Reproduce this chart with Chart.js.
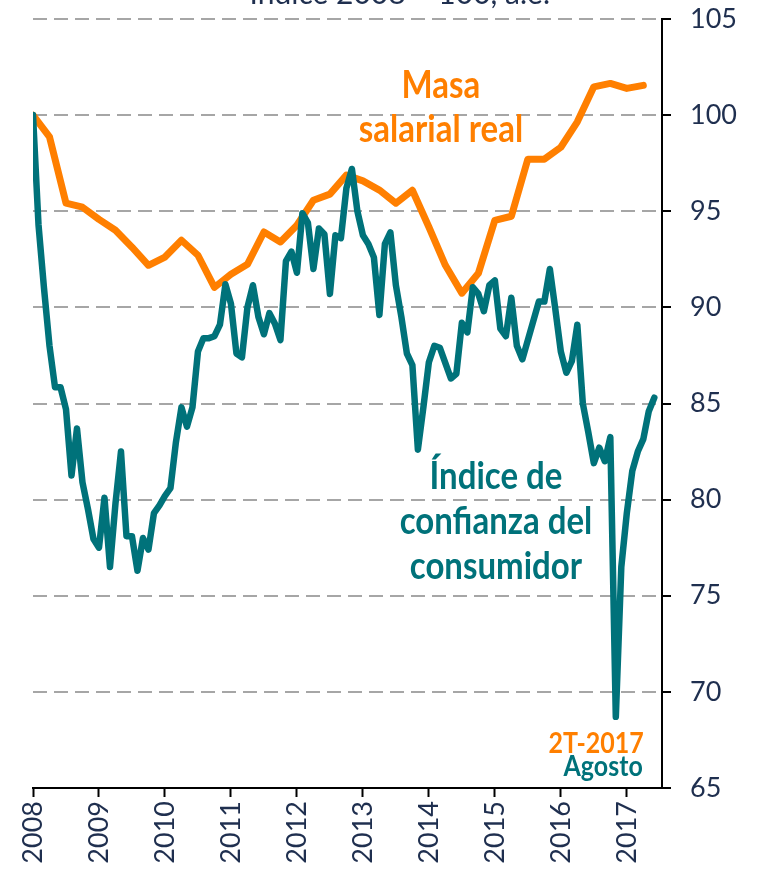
<!DOCTYPE html>
<html lang="es">
<head>
<meta charset="utf-8">
<title>Masa salarial real e Índice de confianza del consumidor</title>
<script src="https://cdn.jsdelivr.net/npm/chart.js@4.4.1/dist/chart.umd.min.js"></script>
<style>
  html, body { margin: 0; padding: 0; background: #ffffff; }
  #wrap { width: 759px; height: 876px; position: relative; }
</style>
</head>
<body>
<div id="wrap"><canvas id="grafica"></canvas></div>
<script>
// Índice de confianza del consumidor, mensual (ene-2008 = 100)
const confianza = [
  100, 94.3, 91.0, 88.0, 85.85, 85.85, 84.7, 81.25, 83.7, 80.9, 79.5, 77.95,
  77.5, 80.1, 76.5, 79.8, 82.5, 78.1, 78.1, 76.3, 78.0, 77.4, 79.3, 79.7,
  80.2, 80.6, 83.0, 84.8, 83.8, 84.8, 87.7, 88.4, 88.4, 88.5, 89.1, 91.2,
  90.2, 87.6, 87.4, 90.0, 91.15, 89.5, 88.6, 89.7, 89.15, 88.3, 92.4, 92.9,
  91.8, 94.9, 94.4, 92.0, 94.1, 93.8, 90.7, 93.75, 93.6, 96.2, 97.2, 95.0,
  93.75, 93.3, 92.6, 89.6, 93.3, 93.9, 91.15, 89.5, 87.6, 87.0, 82.6, 84.8,
  87.15, 88.0, 87.9, 87.1, 86.3, 86.55, 89.2, 88.7, 91.05, 90.7, 89.8, 91.15,
  91.4, 88.9, 88.5, 90.5, 88.0, 87.3, 88.3, 89.3, 90.3, 90.3, 92.0, 89.9,
  87.7, 86.6, 87.2, 89.1, 85.0, 83.5, 81.9, 82.7, 82.0, 83.25, 68.7, 76.5,
  79.3, 81.5, 82.5, 83.15, 84.6, 85.3
];

// Masa salarial real, trimestral (1T-2008 = 100)
const masaSalarial = [
  100, 98.87, 95.42, 95.21, 94.58, 94.01, 93.13, 92.19, 92.62, 93.49,
  92.71, 91.04, 91.72, 92.24, 93.92, 93.40, 94.27, 95.57, 95.89, 96.88,
  96.58, 96.1, 95.42, 96.09, 94.18, 92.19, 90.74, 91.77, 94.53, 94.74,
  97.71, 97.71, 98.33, 99.65, 101.47, 101.65, 101.39, 101.55
];

const anios = ['2008', '2009', '2010', '2011', '2012', '2013', '2014', '2015', '2016', '2017'];
const ticksY = [65, 70, 75, 80, 85, 90, 95, 100, 105];

const NARANJA = '#FF7F00';
const VERDE = '#00727A';
const AZUL = '#1F2F4F';

// textos dentro del gráfico (x en meses desde ene-2008, y en puntos del índice)
const notas = [
  { texto: 'Masa', x: 74.2, y: 100.87, color: NARANJA, size: 33, align: 'center' },
  { texto: 'salarial real', x: 74.2, y: 98.61, color: NARANJA, size: 33, align: 'center' },
  { texto: 'Índice de', x: 84.2, y: 80.56, color: VERDE, size: 33, align: 'center' },
  { texto: 'confianza del', x: 84.2, y: 78.21, color: VERDE, size: 33, align: 'center' },
  { texto: 'consumidor', x: 84.2, y: 75.87, color: VERDE, size: 33, align: 'center' },
  { texto: '2T-2017', x: 111.1, y: 66.84, color: NARANJA, size: 25, align: 'right' },
  { texto: 'Agosto', x: 110.9, y: 65.63, color: VERDE, size: 25, align: 'right' }
];

const pluginNotas = {
  id: 'notas',
  afterDatasetsDraw(chart) {
    const ctx = chart.ctx;
    const sx = chart.scales.x, sy = chart.scales.y;
    ctx.save();
    ctx.textBaseline = 'alphabetic';
    notas.forEach(n => {
      ctx.font = 'bold ' + n.size + 'px Lato, "Open Sans", sans-serif';
      ctx.fillStyle = n.color;
      ctx.textAlign = n.align;
      // el original tiene el texto algo estirado en vertical
      const px = sx.getPixelForValue(n.x), py = sy.getPixelForValue(n.y);
      ctx.save();
      ctx.translate(px, py);
      ctx.scale(1, 1.15);
      ctx.fillText(n.texto, 0, 0);
      ctx.restore();
    });
    // título cortado arriba
    ctx.font = '30px Lato, "Open Sans", sans-serif';
    ctx.fillStyle = AZUL;
    ctx.textAlign = 'center';
    ctx.fillText('Índice 2008 = 100, a.e.', sx.getPixelForValue(66.7), sy.getPixelForValue(105.8));
    ctx.restore();
  }
};

const ctx = document.getElementById('grafica').getContext('2d');
const grafica = new Chart(ctx, {
  type: 'line',
  data: {
    datasets: [
      {
        label: 'Índice de confianza del consumidor',
        data: confianza.map((v, i) => ({ x: i, y: v })),
        borderColor: VERDE,
        borderWidth: 6.5,
        pointRadius: 0,
        tension: 0,
        borderJoinStyle: 'round',
        borderCapStyle: 'round'
      },
      {
        label: 'Masa salarial real',
        data: masaSalarial.map((v, q) => ({ x: q * 3, y: v })),
        borderColor: NARANJA,
        borderWidth: 7,
        pointRadius: 0,
        tension: 0,
        borderJoinStyle: 'round',
        borderCapStyle: 'round'
      }
    ]
  },
  options: {
    responsive: true,
    maintainAspectRatio: false,
    animation: false,
    layout: { padding: { left: 33, top: 19, right: 0, bottom: 0 } },
    plugins: {
      legend: { display: false },
      tooltip: { enabled: false }
    },
    scales: {
      x: {
        type: 'linear',
        min: 0,
        max: 114.4,
        afterBuildTicks: s => { s.ticks = anios.map((a, k) => ({ value: k * 12 })); },
        afterFit: s => { s.height = 88; },
        ticks: {
          callback: (v, i) => anios[i],
          minRotation: 90,
          maxRotation: 90,
          padding: 4,
          color: AZUL,
          font: { family: 'Lato', size: 27 }
        },
        grid: {
          drawOnChartArea: false,
          tickLength: 9,
          tickColor: '#000',
          tickWidth: 2
        },
        border: { color: '#000', width: 2 }
      },
      y: {
        position: 'right',
        min: 65,
        max: 105,
        afterBuildTicks: s => { s.ticks = ticksY.map(v => ({ value: v })); },
        afterFit: s => { s.width = 97; s.paddingTop = 0; s.paddingBottom = 0; },
        ticks: {
          padding: 19,
          color: AZUL,
          font: { family: 'Lato', size: 27 }
        },
        grid: {
          color: c => (c.tick && c.tick.value === 65) ? 'rgba(0,0,0,0)' : '#A6A6A6',
          lineWidth: 2,
          tickLength: 9,
          tickColor: '#000',
          tickWidth: 2,
          tickBorderDash: []
        },
        border: { color: '#000', width: 2, dash: [14, 7] }
      }
    }
  },
  plugins: [pluginNotas]
});
</script>
</body>
</html>
